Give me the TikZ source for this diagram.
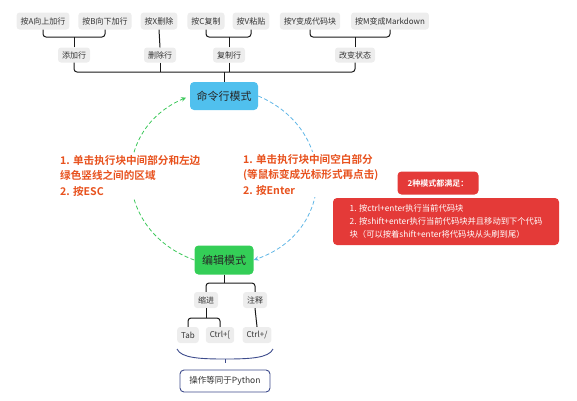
\documentclass[tikz,border=0pt]{standalone}
\usepackage{fontspec}
\setmainfont{Noto Sans CJK SC}[BoldFont={Noto Sans CJK SC Bold}]
\usetikzlibrary{arrows.meta, positioning}

\definecolor{keygray}{RGB}{237,237,237}
\definecolor{ink}{RGB}{51,51,51}
\definecolor{cmdblue}{RGB}{80,192,238}
\definecolor{editgreen}{RGB}{52,206,87}
\definecolor{hintred}{RGB}{232,82,30}
\definecolor{boxred}{RGB}{228,58,56}
\definecolor{navy}{RGB}{62,76,140}
\definecolor{dashblue}{RGB}{95,182,230}
\definecolor{dashgreen}{RGB}{60,200,90}

\tikzset{
  keybox/.style={fill=keygray, rounded corners=3pt, text=ink, font=\fontsize{8}{9}\selectfont, inner xsep=4pt, inner ysep=2pt, minimum height=17pt},
  modebox/.style={rounded corners=4pt, text=black!85, font=\fontsize{11}{12}\selectfont, minimum height=28pt},
  tree/.style={draw=black!90, line width=1pt, rounded corners=3pt},
  hint/.style={fill=white, text=hintred, font=\bfseries\fontsize{10.6}{15.5}\selectfont, align=left, inner sep=2pt},
  redbox/.style={fill=boxred, rounded corners=4pt, text=white, align=left},
  loop/.style={dashed, dash pattern=on 4pt off 2.5pt, line width=0.8pt, -{Stealth[length=5pt, width=4.5pt]}}
}

\begin{document}
\begin{tikzpicture}[x=1pt, y=1pt]
\useasboundingbox (0,0) rectangle (577,-400);

\node[keybox] (ka) at (43,-21) {按A向上加行};
\node[keybox] (kb) at (105,-21) {按B向下加行};
\node[keybox] (kx) at (159,-21) {按X删除};
\node[keybox] (kc) at (206,-21) {按C复制};
\node[keybox] (kv) at (251,-21) {按V粘贴};
\node[keybox] (ky) at (310,-21) {按Y变成代码块};
\node[keybox] (km) at (390,-21) {按M变成Markdown};

\node[keybox, minimum height=15pt] (add) at (74,-55) {添加行};
\node[keybox, minimum height=15pt] (del) at (160,-55) {删除行};
\node[keybox, minimum height=15pt] (copy) at (229,-55) {复制行};
\node[keybox, minimum height=15pt] (state) at (355,-55) {改变状态};

\node[modebox, fill=cmdblue, minimum width=68pt] (cmd) at (224,-96) {命令行模式};
\node[modebox, fill=editgreen, minimum width=59pt, minimum height=29pt] (edit) at (224,-260) {编辑模式};

\coordinate (topbar) at (0,-37);
\coordinate (midbar) at (0,-72);

\draw[tree] (ka.south) |- (add.north |- topbar) -| (kb.south);
\draw[tree] (add.north) -- (add.north |- topbar);
\draw[tree] (kx.south) -- (del.north);
\draw[tree] (kc.south) |- (copy.north |- topbar) -| (kv.south);
\draw[tree] (copy.north) -- (copy.north |- topbar);
\draw[tree] (ky.south) |- (state.north |- topbar) -| (km.south);
\draw[tree] (state.north) -- (state.north |- topbar);

\draw[tree] (add.south) |- (cmd.north |- midbar) -| (state.south);
\draw[tree] (del.south) -- (del.south |- midbar);
\draw[tree] (copy.south) -- (copy.south |- midbar);
\draw[tree] (cmd.north) -- (cmd.north |- midbar);

\draw[loop, dashblue] (cmd.east) to[out=-23, in=19, looseness=1.35] (edit.east);
\draw[loop, dashgreen, shorten >=4pt] (edit.west) to[out=160, in=203, looseness=1.35] (cmd.west);

\node[hint, anchor=north west] (esc) at (58,-153) {1. 单击执行块中间部分和左边\\绿色竖线之间的区域\\2. 按ESC};
\node[hint, anchor=north west] (enter) at (241,-152) {1. 单击执行块中间空白部分\\(等鼠标变成光标形式再点击)\\2. 按Enter};

\node[redbox, font=\bfseries\fontsize{8}{9}\selectfont, minimum width=81pt, minimum height=23pt] (both) at (438,-183) {2种模式都满足：};
\node[redbox, font=\fontsize{8.3}{12.8}\selectfont, minimum width=226pt, minimum height=47pt] (rules) at (446,-221.5) {1. 按ctrl+enter执行当前代码块\\2. 按shift+enter执行当前代码块并且移动到下个代码\\块（可以按着shift+enter将代码块从头刷到尾）};

\node[keybox, minimum height=16pt] (indent) at (206,-300) {缩进};
\node[keybox, minimum height=16pt] (comment) at (255,-300) {注释};
\node[keybox, minimum height=16pt] (tab) at (188,-335) {Tab};
\node[keybox, minimum height=16pt] (ctrlb) at (220,-335) {Ctrl+[};
\node[keybox, minimum height=16pt] (ctrls) at (257,-335) {Ctrl+/};

\coordinate (editbar) at (0,-283);
\coordinate (indentbar) at (0,-318);

\draw[tree] (indent.north) |- (edit.south |- editbar) -| (comment.north);
\draw[tree] (edit.south) -- (edit.south |- editbar);
\draw[tree] (tab.north) |- (indent.south |- indentbar) -| (ctrlb.north);
\draw[tree] (indent.south) -- (indent.south |- indentbar);
\draw[tree] (comment.south) -- (ctrls.north);

\node[draw=navy, line width=0.9pt, fill=white, rounded corners=4pt, text=ink, font=\fontsize{8.5}{10}\selectfont, minimum width=90pt, minimum height=22pt] (python) at (225,-381) {操作等同于Python};

\coordinate (bl) at (177,-349);
\coordinate (bm) at (225,-359);
\coordinate (br) at (273,-349);
\draw[navy, line width=0.9pt] (bl) .. controls (181,-358) and (200,-359) .. (bm) .. controls (250,-359) and (269,-358) .. (br);
\draw[navy, line width=0.9pt, shorten >=7pt] (bm) -- (python.north);
\end{tikzpicture}
\end{document}
